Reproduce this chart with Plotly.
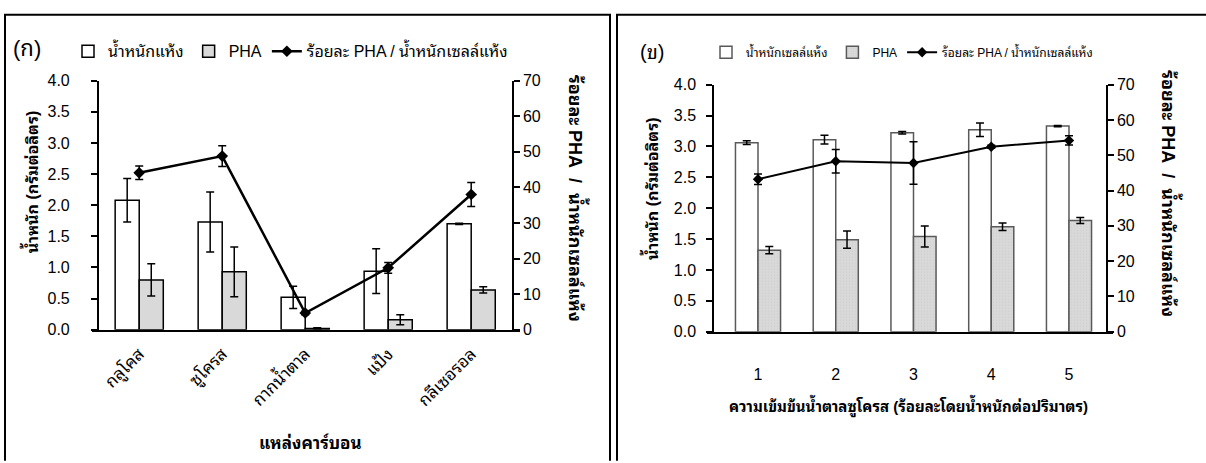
import plotly.graph_objects as go

W, H = 1206, 463

# Panel (ก): effect of carbon source
carbon_sources = ["กลูโคส", "ซูโครส", "กากน้ำตาล", "แป้ง", "กลีเซอรอล"]
dcw_a = [2.08, 1.73, 0.52, 0.94, 1.70]
dcw_a_err = [0.35, 0.48, 0.18, 0.36, 0.01]
pha_a = [0.80, 0.93, 0.02, 0.16, 0.64]
pha_a_err = [0.26, 0.40, 0.01, 0.08, 0.05]
pct_a = [44.1, 48.8, 4.7, 17.4, 38.0]
pct_a_err = [1.9, 2.9, 0.5, 1.5, 3.4]

# Panel (ข): effect of sucrose concentration (% w/v)
sucrose_conc = [1, 2, 3, 4, 5]
dcw_b = [3.06, 3.11, 3.22, 3.27, 3.33]
dcw_b_err = [0.03, 0.07, 0.02, 0.11, 0.01]
pha_b = [1.32, 1.49, 1.54, 1.70, 1.80]
pha_b_err = [0.06, 0.14, 0.17, 0.06, 0.05]
pct_b = [43.2, 48.3, 47.8, 52.4, 54.2]
pct_b_err = [1.5, 3.3, 6.0, 0.4, 1.3]

weight_ticks = [0.0, 0.5, 1.0, 1.5, 2.0, 2.5, 3.0, 3.5, 4.0]
pct_ticks = [0, 10, 20, 30, 40, 50, 60, 70]

FONT = "Arial, 'Noto Sans Thai Looped', Tahoma, Loma, Garuda, sans-serif"
GRAY = "#d9d9d9"
FSP = "\u2007"   # figure space, used to push right-hand tick labels outward
NB = "\u00a0"


def px(x):
    return x / W


def py(y):
    return 1 - y / H


def err(values, color="black"):
    return dict(type="data", array=values, color=color, thickness=1.5, width=4, visible=True)


fig = go.Figure()

# ---- panel (ก) ----
fig.add_trace(go.Bar(
    x=carbon_sources, y=dcw_a, error_y=err(dcw_a_err), name="น้ำหนักแห้ง",
    marker=dict(color="white", line=dict(color="black", width=1.5)),
    xaxis="x", yaxis="y", legend="legend"))
fig.add_trace(go.Bar(
    x=carbon_sources, y=pha_a, error_y=err(pha_a_err), name="PHA",
    marker=dict(color=GRAY, line=dict(color="black", width=1.5)),
    xaxis="x", yaxis="y", legend="legend"))
fig.add_trace(go.Scatter(
    x=carbon_sources, y=pct_a, error_y=err(pct_a_err), name="ร้อยละ PHA / น้ำหนักเซลล์แห้ง",
    mode="lines+markers", line=dict(color="black", width=2.5),
    marker=dict(symbol="diamond", size=9, color="black"),
    xaxis="x", yaxis="y2", legend="legend"))

# ---- panel (ข) ----
fig.add_trace(go.Bar(
    x=sucrose_conc, y=dcw_b, error_y=err(dcw_b_err), name="น้ำหนักเซลล์แห้ง",
    marker=dict(color="white", line=dict(color="#595959", width=1.5)),
    xaxis="x3", yaxis="y3", legend="legend2"))
fig.add_trace(go.Bar(
    x=sucrose_conc, y=pha_b, error_y=err(pha_b_err), name="PHA",
    marker=dict(color=GRAY, line=dict(color="#595959", width=1.5),
                pattern=dict(shape=".", fgcolor="#c4c4c4", size=3, solidity=0.25)),
    xaxis="x3", yaxis="y3", legend="legend2"))
fig.add_trace(go.Scatter(
    x=sucrose_conc, y=pct_b, error_y=err(pct_b_err), name="ร้อยละ PHA / น้ำหนักเซลล์แห้ง",
    mode="lines+markers", line=dict(color="black", width=2),
    marker=dict(symbol="diamond", size=8, color="black"),
    xaxis="x3", yaxis="y4", legend="legend2"))

axis_common = dict(showgrid=False, zeroline=False, showline=True, linecolor="black",
                   linewidth=1.5, tickfont=dict(family=FONT, size=16, color="black"))
yleft = dict(axis_common, range=[0, 4], tickvals=weight_ticks, tickformat=".1f",
             ticks="outside", ticklen=6, tickwidth=1.5, tickcolor="black", anchor="free")
yright = dict(axis_common, range=[0, 70], tickvals=pct_ticks, side="right",
              ticks="outside", ticklen=6, tickwidth=1.5, tickcolor="black", anchor="free")

fig.update_layout(
    width=W, height=H, margin=dict(l=0, r=0, t=0, b=0),
    paper_bgcolor="white", plot_bgcolor="white",
    font=dict(family=FONT, color="black"),
    barmode="group", bargap=0.42, bargroupgap=0,
    xaxis=dict(axis_common, domain=[px(92), px(520)], anchor="y", type="category",
               range=[-0.569, 4.588], ticks="", tickangle=-45, ticklabelstandoff=6,
               tickfont=dict(family=FONT, size=17, color="black")),
    yaxis=dict(yleft, domain=[py(334), py(75.4)], position=px(97.7), ticklabelstandoff=18),
    yaxis2=dict(yright, overlaying="y", position=px(513), tickprefix=FSP + FSP),
    xaxis3=dict(axis_common, domain=[px(707), px(1113)], anchor="y3",
                range=[0.344, 5.566], tickvals=sucrose_conc, ticks="", ticklabelstandoff=27),
    yaxis3=dict(yleft, domain=[py(336), py(79.6)], position=px(713), ticklabelstandoff=7),
    yaxis4=dict(yright, overlaying="y3", position=px(1107), tickprefix=FSP + FSP),
    legend=dict(orientation="h", x=px(68), y=py(45), xanchor="left", yanchor="middle",
                font=dict(family=FONT, size=16), bgcolor="rgba(0,0,0,0)",
                itemwidth=30, tracegroupgap=0),
    legend2=dict(orientation="h", x=px(706), y=py(46), xanchor="left", yanchor="middle",
                 font=dict(family=FONT, size=12), bgcolor="rgba(0,0,0,0)",
                 itemwidth=30, tracegroupgap=0),
)

pct_title = f"<b>ร้อยละ PHA{NB}{NB}/{NB}{NB}น้ำหนักเซลล์แห้ง</b>"
title_font = dict(family=FONT, size=16, color="black")
pct_font = dict(family=FONT, size=18, color="black")
annotations = [
    dict(text="(ก)", x=px(27), y=py(42), font=dict(family=FONT, size=22)),
    dict(text="(ข)", x=px(652), y=py(46), font=dict(family=FONT, size=20)),
    dict(text="<b>น้ำหนัก (กรัมต่อลิตร)</b>", x=px(30), y=py(181), textangle=-90, font=title_font),
    dict(text=pct_title, x=px(577), y=py(197), textangle=90, font=pct_font),
    dict(text="<b>แหล่งคาร์บอน</b>", x=px(310), y=py(452), font=dict(family=FONT, size=17)),
    dict(text="<b>น้ำหนัก (กรัมต่อลิตร)</b>", x=px(650), y=py(188), textangle=-90, font=title_font),
    dict(text=pct_title, x=px(1170), y=py(192), textangle=90, font=pct_font),
    dict(text="<b>ความเข้มข้นน้ำตาลซูโครส (ร้อยละโดยน้ำหนักต่อปริมาตร)</b>", x=px(908), y=py(413),
         font=dict(family=FONT, size=15)),
]
for a in annotations:
    a.update(xref="paper", yref="paper", showarrow=False, xanchor="center", yanchor="middle")
fig.update_layout(annotations=annotations)

# panel frames (open at the bottom)
frame = dict(color="black", width=2)
fig.add_shape(type="path", xref="paper", yref="paper",
              path=f"M {px(5)},{py(470)} L {px(5)},{py(7)} L {px(610)},{py(7)} L {px(610)},{py(470)}",
              line=frame)
fig.add_shape(type="path", xref="paper", yref="paper",
              path=f"M {px(617)},{py(470)} L {px(617)},{py(7)} L {px(1210)},{py(7)}",
              line=frame)

fig.write_html("out.html")
